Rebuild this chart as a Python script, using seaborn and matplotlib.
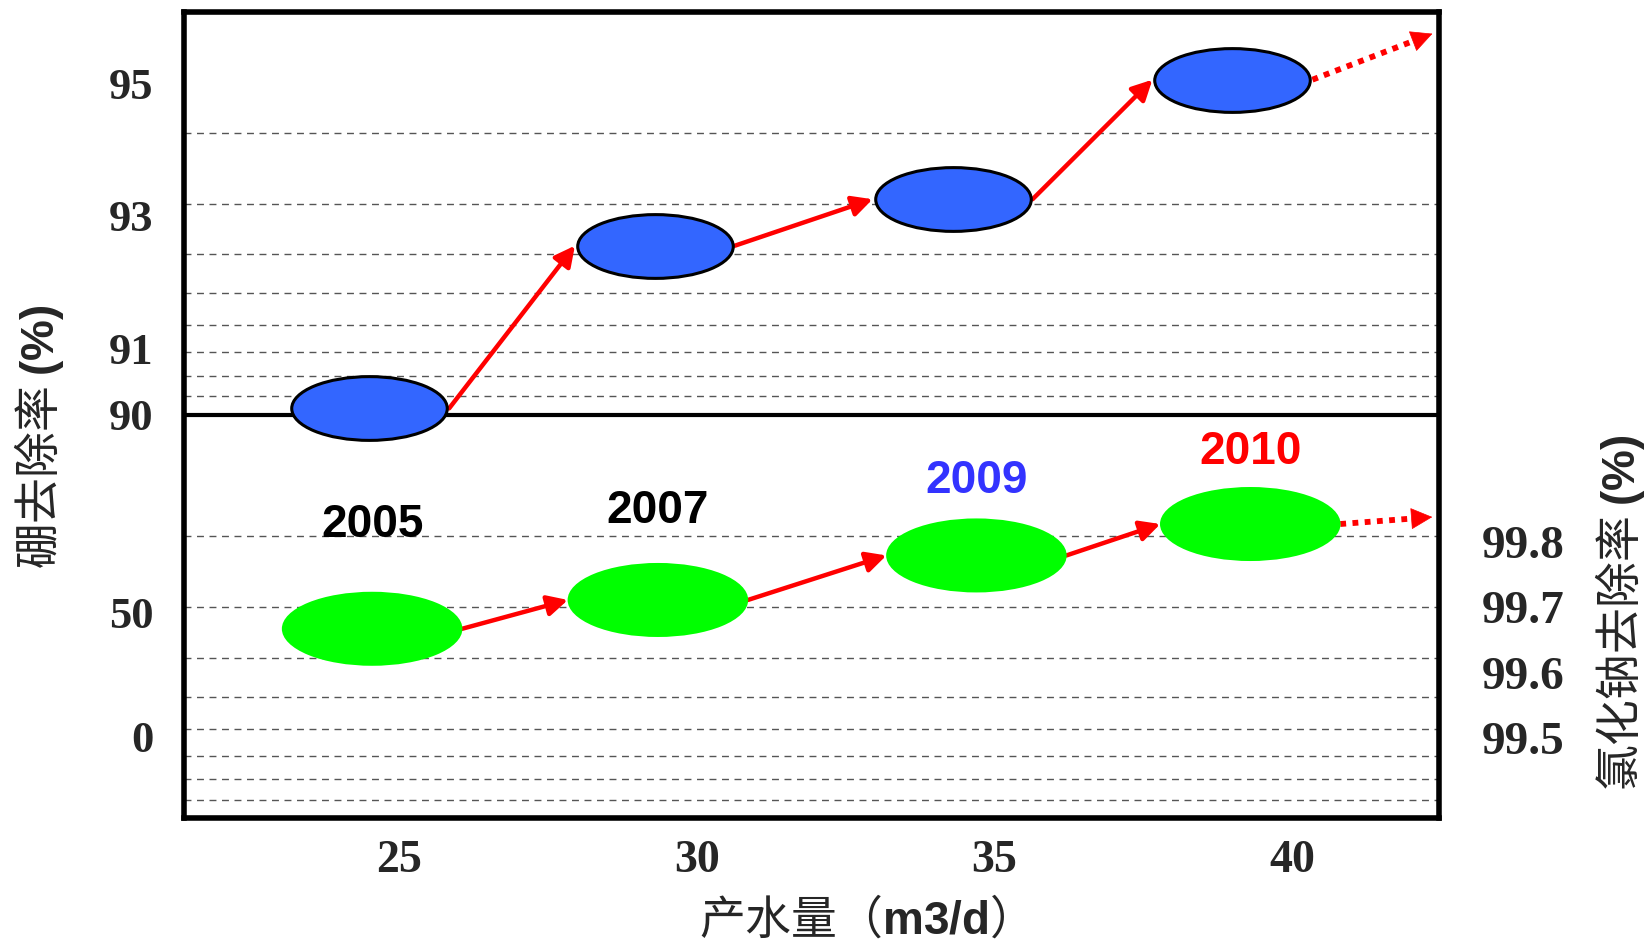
import numpy as np
import pandas as pd
import matplotlib
matplotlib.use("Agg")
import matplotlib.pyplot as plt
import matplotlib.ticker as mticker
import matplotlib.transforms as mtransforms
from matplotlib.path import Path
import seaborn as sns

# ---- values ----
years = ["2005", "2007", "2009", "2010"]
boron_flow = [24.5, 29.3, 34.3, 39.0]            # m3/d (blue)
boron_removal = [90.1, 92.55, 93.25, 95.05]      # %
nacl_flow = [24.55, 29.35, 34.7, 39.3]           # m3/d (green)
nacl_removal = [99.667, 99.711, 99.779, 99.827]  # %

x_ticks = [25, 30, 35, 40]
boron_ticks = [90, 91, 93, 95]
lower_ticks = [0, 50]
nacl_ticks = [99.5, 99.6, 99.7, 99.8]
year_colors = ["black", "black", "#3333ff", "red"]
year_dy_px = [104, 89, 74, 72]      # label height above green marks

sns.set_style("white")
plt.rcParams['font.family'] = ['Noto Sans CJK SC', 'DejaVu Sans']
plt.rcParams['mathtext.fontset'] = 'custom'
plt.rcParams['mathtext.bf'] = 'Liberation Sans:bold'
plt.rcParams['mathtext.rm'] = 'Liberation Sans'

DPI = 100
W, H = 1650, 942
fig = plt.figure(figsize=(W / DPI, H / DPI), dpi=DPI)

L, R, T, M, B = 184, 1439, 11.5, 415, 818   # frame in pixels
def box(top, bottom):
    return [L / W, 1 - bottom / H, (R - L) / W, (bottom - top) / H]

ax = fig.add_axes(box(T, B))                 # frame + log grid
ax_top = fig.add_axes(box(T, M), sharex=ax)  # boron removal
ax_bot = fig.add_axes(box(M, B), sharex=ax)  # lower part of left axis
ax_nacl = ax_bot.twinx()                     # NaCl removal

serif = dict(fontfamily='Liberation Serif', fontweight='bold')

# frame / grid
ax.set_xlim(21.39, 42.47)
ax.set_yscale('log')
ax.set_ylim(100, 1)
ax.yaxis.set_minor_locator(mticker.LogLocator(subs=range(2, 10)))
ax.grid(which='minor', axis='y', color='#555555', lw=1.0, ls=(0, (5, 4)))
ax.grid(which='major', axis='y', color='black', lw=3)
ax.tick_params(axis='y', which='both', left=False, right=False, labelleft=False)
ax.set_xticks(x_ticks, labels=[str(v) for v in x_ticks], fontsize=33, **serif)
ax.tick_params(axis='x', direction='in', length=19, width=2, pad=16, color='black')
for s in ax.spines.values():
    s.set_linewidth(4)
    s.set_color('black')

for a in (ax_top, ax_bot, ax_nacl):
    a.set_facecolor('none')
    for s in a.spines.values():
        s.set_visible(False)
    a.tick_params(axis='x', which='both', bottom=False, labelbottom=False)

# boron (blue) and NaCl (green) marks
df_b = pd.DataFrame({'flow': boron_flow, 'removal': boron_removal})
df_n = pd.DataFrame({'flow': nacl_flow, 'removal': nacl_removal})
ellipse = Path.unit_circle().transformed(mtransforms.Affine2D().scale(1, 0.41))

sns.scatterplot(data=df_b, x='flow', y='removal', ax=ax_top, marker=ellipse, s=12544,
                color='#3366ff', edgecolor='black', linewidth=2.2, clip_on=False,
                zorder=3, legend=False)
sns.scatterplot(data=df_n, x='flow', y='removal', ax=ax_nacl, marker=ellipse, s=16900,
                color='#00ff00', edgecolor='none', linewidth=0, clip_on=False,
                zorder=3, legend=False)

ax_top.set_ylim(90, 96.077)
ax_top.set_yticks(boron_ticks, labels=[str(v) for v in boron_ticks], fontsize=32, **serif)
ax_top.tick_params(axis='y', length=0, pad=22)
ax_top.set(xlabel='', ylabel='')

ax_bot.set_ylim(-32.4, 128.8)
ax_bot.set_yticks(lower_ticks, labels=[str(v) for v in lower_ticks], fontsize=32, **serif)
ax_bot.tick_params(axis='y', length=0, pad=22)
ax_bot.set(xlabel='', ylabel='')

ax_nacl.set_ylim(99.378, 99.9935)
ax_nacl.set_yticks(nacl_ticks, labels=[f"{v:.1f}" for v in nacl_ticks], fontsize=34, **serif)
ax_nacl.tick_params(axis='y', length=0, pad=31)
ax_nacl.set(xlabel='', ylabel='')
ax.set_xlim(21.39, 42.47)


def shifted(a, dx, dy):
    return a.transData + mtransforms.ScaledTranslation(dx / DPI, dy / DPI, fig.dpi_scale_trans)


def trend_arrows(a, xs, ys, half_w, tail):
    props = dict(arrowstyle='-|>,head_length=0.55,head_width=0.28', color='red', lw=3.2,
                 mutation_scale=22, shrinkA=0, shrinkB=0)
    for i in range(len(xs) - 1):
        a.annotate('', xy=(xs[i + 1], ys[i + 1]), xycoords=shifted(a, -half_w, 0),
                   xytext=(xs[i], ys[i]), textcoords=shifted(a, half_w, 0),
                   arrowprops=props, zorder=2)
    # dotted trend continuation: dotted shaft + solid head
    last = (xs[-1], ys[-1])
    vx, vy = tail[0] - half_w, tail[1]
    n = np.hypot(vx, vy)
    back = (tail[0] - 20 * vx / n, tail[1] - 20 * vy / n)
    a.annotate('', xy=last, xycoords=shifted(a, *back),
               xytext=last, textcoords=shifted(a, half_w, 0),
               arrowprops=dict(arrowstyle='-', color='red', lw=4.2,
                               linestyle=(0, (1, 1.1)), capstyle='butt',
                               shrinkA=0, shrinkB=0),
               zorder=2, annotation_clip=False)
    a.annotate('', xy=last, xycoords=shifted(a, *tail),
               xytext=last, textcoords=shifted(a, *back),
               arrowprops=dict(arrowstyle='-|>,head_length=0.8,head_width=0.4',
                               color='red', lw=0.5, mutation_scale=18,
                               shrinkA=0, shrinkB=0),
               zorder=2, annotation_clip=False)


trend_arrows(ax_top, boron_flow, boron_removal, 80, (200, 46))
trend_arrows(ax_nacl, nacl_flow, nacl_removal, 90, (182, 7))

for x, y, yr, c, dy in zip(nacl_flow, nacl_removal, years, year_colors, year_dy_px):
    ax_nacl.annotate(yr, xy=(x, y), xytext=(0, dy * 0.72), textcoords='offset points',
                     ha='center', va='center', fontsize=33, fontweight='bold',
                     fontfamily='Liberation Sans', color=c)

# axis titles
fig.text(39 / W, 1 - 437 / H, "硼去除率 $\\mathbf{(\\%)}$", rotation=90,
         ha='center', va='center', fontsize=33)
fig.text(1620 / W, 1 - 613 / H, "氯化钠去除率 $\\mathbf{(\\%)}$", rotation=90,
         ha='center', va='center', fontsize=33)
fig.text(852 / W, 1 - 920 / H, "产水量（$\\mathbf{m3/d}$）",
         ha='center', va='center', fontsize=33)

fig.savefig("out.png", dpi=DPI)
